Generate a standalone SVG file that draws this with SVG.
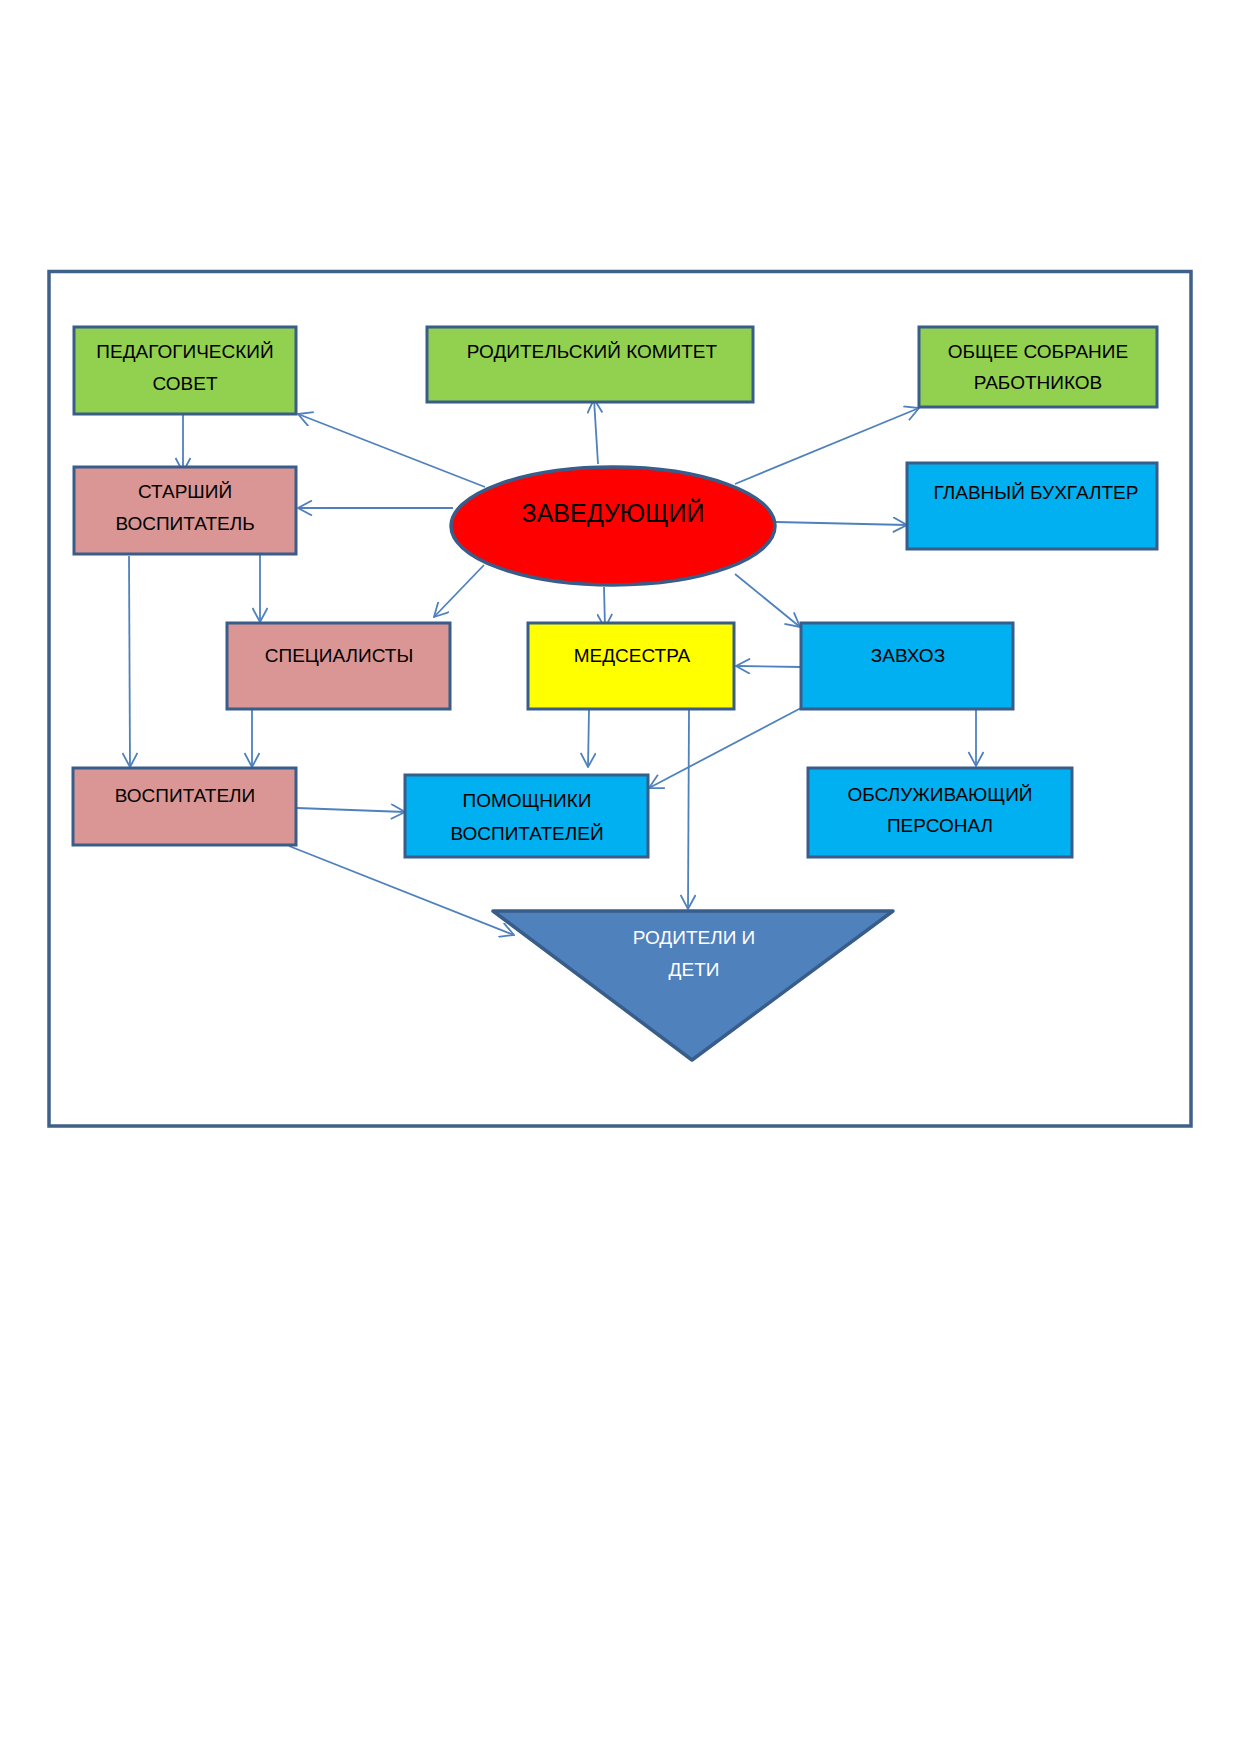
<svg xmlns="http://www.w3.org/2000/svg" width="1240" height="1755" viewBox="0 0 1240 1755">
<defs>
<marker id="arr" viewBox="0 0 16 16" refX="15" refY="8" markerWidth="16" markerHeight="16" markerUnits="userSpaceOnUse" orient="auto">
<path d="M1,0.5 L15,8 L1,15.5" fill="none" stroke="#4F81BD" stroke-width="1.8"/>
</marker>
</defs>
<style>
.box{stroke:#385D8A;stroke-width:3}
.green{fill:#92D050}
.pink{fill:#D99694}
.blue{fill:#00B0F0}
.yellow{fill:#FFFF00}
.t{font-family:"Liberation Sans",Arial,sans-serif;font-size:19px;fill:#000;text-anchor:middle}
.w{fill:#FFFFFF}
.c{fill:none;stroke:#4F81BD;stroke-width:1.8;marker-end:url(#arr)}
</style>
<rect width="1240" height="1755" fill="#FFFFFF"/>
<rect id="frame" x="49" y="271.5" width="1142" height="854.5" fill="none" stroke="#3F6089" stroke-width="3.5"/>

<g id="connectors">
<line class="c" x1="485" y1="487" x2="298" y2="414"/>
<line class="c" x1="598" y1="464" x2="594" y2="399"/>
<line class="c" x1="735" y1="484" x2="919" y2="408"/>
<line class="c" x1="453" y1="508" x2="298" y2="508"/>
<line class="c" x1="776" y1="522" x2="907" y2="525"/>
<line class="c" x1="484" y1="565" x2="434" y2="617"/>
<line class="c" x1="604" y1="587" x2="605" y2="628"/>
<line class="c" x1="735" y1="574" x2="800" y2="627"/>
<line class="c" x1="183" y1="415" x2="183" y2="472"/>
<line class="c" x1="260" y1="552" x2="260" y2="622"/>
<line class="c" x1="129" y1="556" x2="130" y2="767"/>
<line class="c" x1="252" y1="693" x2="252" y2="767"/>
<line class="c" x1="801" y1="667" x2="736" y2="666"/>
<line class="c" x1="801" y1="708" x2="649" y2="788"/>
<line class="c" x1="589" y1="710" x2="588" y2="767"/>
<line class="c" x1="689" y1="710" x2="688" y2="909"/>
<line class="c" x1="976" y1="710" x2="976" y2="766"/>
<line class="c" x1="297" y1="808" x2="405" y2="812"/>
<line class="c" x1="289" y1="846" x2="514" y2="935"/>
</g>

<g id="ped-sovet">
<rect class="box green" x="74" y="327" width="222" height="87"/>
<text class="t" x="185" y="358">ПЕДАГОГИЧЕСКИЙ</text>
<text class="t" x="185" y="390">СОВЕТ</text>
</g>
<g id="rod-komitet">
<rect class="box green" x="427" y="327" width="326" height="75"/>
<text class="t" x="592" y="358">РОДИТЕЛЬСКИЙ КОМИТЕТ</text>
</g>
<g id="obshee-sobranie">
<rect class="box green" x="919" y="327" width="238" height="80"/>
<text class="t" x="1038" y="358">ОБЩЕЕ СОБРАНИЕ</text>
<text class="t" x="1038" y="389">РАБОТНИКОВ</text>
</g>
<g id="glavbuh">
<rect class="box blue" x="907" y="463" width="250" height="86"/>
<text class="t" x="1036" y="499">ГЛАВНЫЙ БУХГАЛТЕР</text>
</g>
<g id="zaveduyushiy">
<ellipse cx="613" cy="526" rx="162" ry="59" fill="#FF0000" stroke="#385D8A" stroke-width="3.5"/>
<text class="t" x="613" y="522" style="font-size:25px">ЗАВЕДУЮЩИЙ</text>
</g>
<g id="starshiy">
<rect class="box pink" x="74" y="467" width="222" height="87"/>
<text class="t" x="185" y="498">СТАРШИЙ</text>
<text class="t" x="185" y="530">ВОСПИТАТЕЛЬ</text>
</g>
<g id="specialisty">
<rect class="box pink" x="227" y="623" width="223" height="86"/>
<text class="t" x="339" y="662">СПЕЦИАЛИСТЫ</text>
</g>
<g id="medsestra">
<rect class="box yellow" x="528" y="623" width="206" height="86"/>
<text class="t" x="632" y="662">МЕДСЕСТРА</text>
</g>
<g id="zavhoz">
<rect class="box blue" x="801" y="623" width="212" height="86"/>
<text class="t" x="908" y="662">ЗАВХОЗ</text>
</g>
<g id="vospitateli">
<rect class="box pink" x="73" y="768" width="223" height="77"/>
<text class="t" x="185" y="802">ВОСПИТАТЕЛИ</text>
</g>
<g id="pomoshniki">
<rect class="box blue" x="405" y="775" width="243" height="82"/>
<text class="t" x="527" y="807">ПОМОЩНИКИ</text>
<text class="t" x="527" y="840">ВОСПИТАТЕЛЕЙ</text>
</g>
<g id="obsluzh">
<rect class="box blue" x="808" y="768" width="264" height="89"/>
<text class="t" x="940" y="801">ОБСЛУЖИВАЮЩИЙ</text>
<text class="t" x="940" y="832">ПЕРСОНАЛ</text>
</g>
<g id="roditeli-deti">
<polygon points="493,911 893,911 692,1060" fill="#4F81BD" stroke="#385D8A" stroke-width="3.5" stroke-linejoin="round"/>
<text class="t w" x="694" y="944">РОДИТЕЛИ И</text>
<text class="t w" x="694" y="976">ДЕТИ</text>
</g>
</svg>
